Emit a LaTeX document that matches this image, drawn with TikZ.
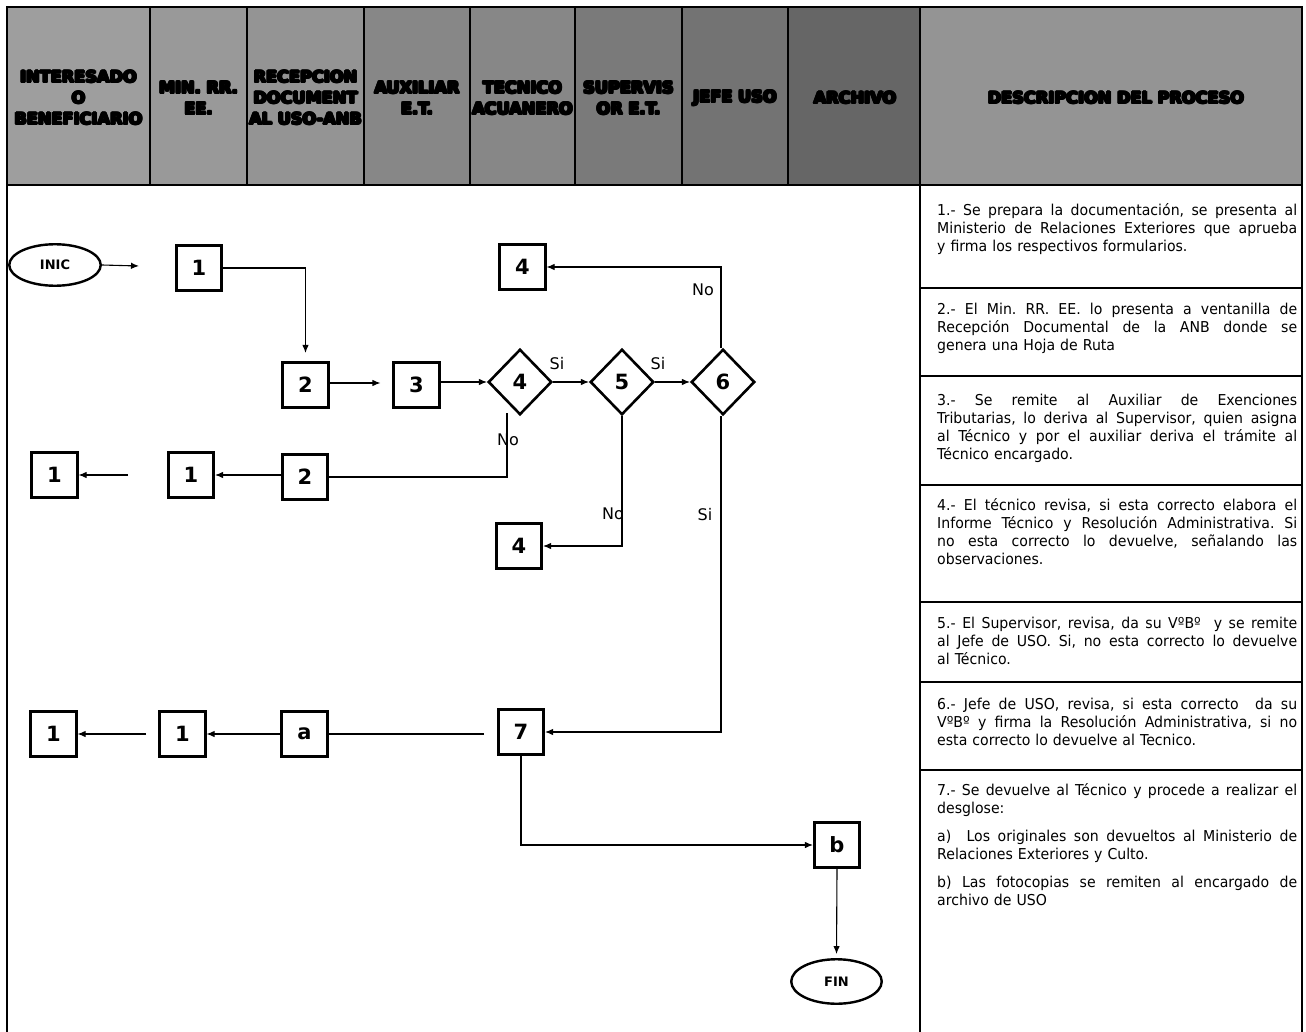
\documentclass[tikz,border=0pt]{standalone}
\usepackage{fontspec}
\setmainfont{DejaVu Sans}
\newfontfamily\descfont{DejaVu Sans}[FakeStretch=0.94]
\usetikzlibrary{shapes.geometric,arrows.meta}
\newsavebox\olbox
\newcommand\olt[1]{\sbox\olbox{#1}%
\rlap{\hspace{1.1pt}\usebox\olbox}%
\rlap{\hspace{-1.1pt}\usebox\olbox}%
\rlap{\raisebox{1.1pt}{\usebox\olbox}}%
\rlap{\raisebox{-1.1pt}{\usebox\olbox}}%
\rlap{\hspace{.8pt}\raisebox{.8pt}{\usebox\olbox}}%
\rlap{\hspace{-.8pt}\raisebox{.8pt}{\usebox\olbox}}%
\rlap{\hspace{.8pt}\raisebox{-.8pt}{\usebox\olbox}}%
\rlap{\hspace{-.8pt}\raisebox{-.8pt}{\usebox\olbox}}%
{\color{white}\usebox\olbox}}
\newcommand\jl[1]{\makebox[360pt][s]{\spaceskip=0pt\xspaceskip=0pt\frenchspacing #1}}
\tikzset{
  hd/.style={align=center, inner sep=0pt, text=black, font=\bfseries\fontsize{16.2}{21}\selectfont},
  sbox/.style={draw, fill=white, line width=2.6pt, minimum size=45.5pt, inner sep=0pt, font=\bfseries\fontsize{21}{21}\selectfont},
  dia/.style={diamond, draw, fill=white, line width=2.6pt, minimum width=63.5pt, minimum height=65.5pt, inner sep=0pt, font=\bfseries\fontsize{21}{21}\selectfont},
  term/.style={ellipse, draw, line width=2.4pt, inner sep=0pt, font=\bfseries\fontsize{13}{13}\selectfont},
  arr/.style={line width=1.1pt, -{Latex[length=8pt,width=6.5pt]}},
  ln/.style={line width=1.1pt},
  lbl/.style={inner sep=0pt, font=\fontsize{16}{16}\selectfont},
  desc/.style={anchor=north west, inner sep=0pt, align=left, text width=360pt, font=\descfont\frenchspacing\fontsize{15}{18}\selectfont},
  frame/.style={line width=1.6pt}
}
\begin{document}
\begin{tikzpicture}[x=1pt,y=-1pt]
\useasboundingbox (0,0) rectangle (1306,1032);
\fill[white] (0,0) rectangle (1306,1032);
% header backgrounds
\fill[black!38] (7,7) rectangle (150,185);
\fill[black!40] (150,7) rectangle (247,185);
\fill[black!42] (247,7) rectangle (364,185);
\fill[black!47] (364,7) rectangle (470,185);
\fill[black!47] (470,7) rectangle (575,185);
\fill[black!52] (575,7) rectangle (682,185);
\fill[black!55] (682,7) rectangle (788,185);
\fill[black!60] (788,7) rectangle (920,185);
\fill[black!42] (920,7) rectangle (1302,185);
% header frame
\draw[frame] (7,7) rectangle (1302,185);
\foreach \xx in {150,247,364,470,575,682,788,920} \draw[frame] (\xx,7) -- (\xx,185);
% body frame
\draw[frame] (7,185) -- (7,1032);
\draw[frame] (920,185) -- (920,1032);
\draw[frame] (1302,185) -- (1302,1032);
\foreach \yy in {288,376,485,602,682,770} \draw[frame] (920,\yy) -- (1302,\yy);
% header texts
\node[hd] (h1) at (78.5,98) {\olt{INTERESADO}\\\olt{O}\\\olt{BENEFICIARIO}};
\node[hd] (h2) at (198.5,98) {\olt{MIN. RR.}\\\olt{EE.}};
\node[hd] (h3) at (305.5,98) {\olt{RECEPCION}\\\olt{DOCUMENT}\\\olt{AL USO-ANB}};
\node[hd] (h4) at (417,98) {\olt{AUXILIAR}\\\olt{E.T.}};
\node[hd] (h5) at (522.5,98) {\olt{TECNICO}\\\olt{ACUANERO}};
\node[hd] (h6) at (628.5,98) {\olt{SUPERVIS}\\\olt{OR E.T.}};
\node[hd] (h7) at (735,98) {\olt{JEFE USO}};
\node[hd] (h8) at (855,98) {\olt{ARCHIVO}};
\node[hd] (h9) at (1116,98) {\olt{DESCRIPCION DEL PROCESO}};
% descriptions
\node[desc] (t1) at (937,203) {\jl{1.- Se prepara la documentación, se presenta al}\\\jl{Ministerio de Relaciones Exteriores que aprueba}\\y firma los respectivos formularios.};
\node[desc] (t2) at (937,303) {\jl{2.- El Min. RR. EE. lo presenta a ventanilla de}\\\jl{Recepción Documental de la ANB donde se}\\genera una Hoja de Ruta};
\node[desc] (t3) at (937,394) {\jl{3.- Se remite al Auxiliar de Exenciones}\\\jl{Tributarias, lo deriva al Supervisor, quien asigna}\\\jl{al Técnico y por el auxiliar deriva el trámite al}\\Técnico encargado.};
\node[desc] (t4) at (937,498) {\jl{4.- El técnico revisa, si esta correcto elabora el}\\\jl{Informe Técnico y Resolución Administrativa. Si}\\\jl{no esta correcto lo devuelve, señalando las}\\observaciones.};
\node[desc] (t5) at (937,617) {\jl{5.- El Supervisor, revisa, da su VºBº\ \ y se remite}\\\jl{al Jefe de USO. Si, no esta correcto lo devuelve}\\al Técnico.};
\node[desc] (t6) at (937,698) {\jl{6.- Jefe de USO, revisa, si esta correcto\ \ da su}\\\jl{VºBº y firma la Resolución Administrativa, si no}\\esta correcto lo devuelve al Tecnico.};
\node[desc] (t7) at (937,783) {\jl{7.- Se devuelve al Técnico y procede a realizar el}\\desglose:\\[10pt]\jl{a)\ \ Los originales son devueltos al Ministerio de}\\Relaciones Exteriores y Culto.\\[10pt]\jl{b) Las fotocopias se remiten al encargado de}\\archivo de USO};
% flow nodes
\node[term, minimum width=91.5pt, minimum height=41.5pt] (inic) at (55,265) {INIC};
\node[sbox] (b1) at (199,268) {1};
\node[sbox] (b2) at (305.5,385) {2};
\node[sbox] (b3) at (416.5,385) {3};
\node[dia] (d4) at (520,382) {4};
\node[dia] (d5) at (622,382) {5};
\node[dia] (d6) at (723,382) {6};
\node[sbox] (b4t) at (522.5,267) {4};
\node[sbox] (b1l) at (54.5,475) {1};
\node[sbox] (b1m) at (191,475) {1};
\node[sbox] (b2b) at (305,477) {2};
\node[sbox] (b4b) at (519,546) {4};
\node[sbox] (b1l3) at (53.5,734) {1};
\node[sbox] (b1m3) at (182.5,734) {1};
\node[sbox] (ba) at (304.5,734) {a};
\node[sbox] (b7) at (521,732) {7};
\node[sbox] (bb) at (837,845) {b};
\node[term, minimum width=90.5pt, minimum height=44.5pt] (fin) at (836.5,981.5) {FIN};
% labels
\node[lbl] (l1) at (703,290) {No};
\node[lbl] (l2) at (557,364) {Si};
\node[lbl] (l3) at (658,364) {Si};
\node[lbl] (l4) at (508,440) {No};
\node[lbl] (l5) at (613,514) {No};
\node[lbl] (l6) at (705,515) {Si};
% connectors
\coordinate (c0) at (139,266);
\draw[arr] (inic.east) -- (c0);
\draw[arr, shorten >=8pt] (b1.east) -| (b2.north);
\draw[arr, shorten >=12pt] (b2.east |- 0,383) -- (b3.west |- 0,383);
\draw[arr] (b3.east |- d4) -- (d4.west);
\draw[arr] (d4.east) -- (d5.west);
\draw[arr] (d5.east) -- (d6.west);
\draw[arr] ([xshift=-2pt]d6.north) |- (b4t.east);
\coordinate (c4) at (507,413);
\draw[ln] (c4) |- (b2b.east);
\draw[arr] (b2b.west |- b1m) -- (b1m.east);
\coordinate (c1) at (128,475);
\draw[arr] (c1) -- (b1l.east);
\draw[arr] (d5.south) |- (b4b.east);
\draw[arr] ([xshift=-2pt]d6.south) |- (b7.east);
\coordinate (c7) at (484,734);
\draw[ln] (c7) -- (ba.east);
\draw[arr] (ba.west) -- (b1m3.east);
\coordinate (c2) at (146,734);
\draw[arr] (c2) -- (b1l3.east);
\draw[arr] (b7.south) |- (bb.west);
\draw[arr, shorten >=4pt] (bb.south) -- (fin.north);
\end{tikzpicture}
\end{document}
